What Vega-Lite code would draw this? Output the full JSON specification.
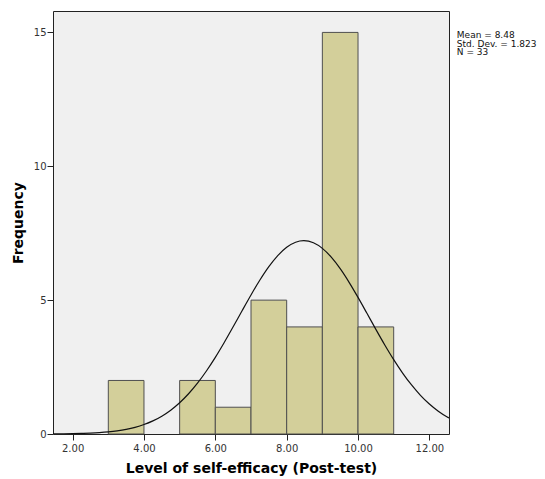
{
  "$schema": "https://vega.github.io/schema/vega-lite/v6.json",
  "autosize": "none",
  "width": 396,
  "height": 423,
  "padding": {"left": 53, "top": 11, "right": 96, "bottom": 45},
  "background": "white",
  "config": {
    "view": {"fill": "#f0f0f0", "stroke": "#222222", "strokeWidth": 1},
    "axis": {
      "domain": false,
      "grid": false,
      "tickColor": "#222222",
      "tickSize": 6,
      "labelFont": "DejaVu Sans",
      "labelFontSize": 10,
      "labelColor": "#333333",
      "titleFont": "DejaVu Sans",
      "titleFontWeight": "bold",
      "titleColor": "#000000"
    }
  },
  "datasets": {
    "bins": [
      {"start": 3, "end": 4, "count": 2},
      {"start": 5, "end": 6, "count": 2},
      {"start": 6, "end": 7, "count": 1},
      {"start": 7, "end": 8, "count": 5},
      {"start": 8, "end": 9, "count": 4},
      {"start": 9, "end": 10, "count": 15},
      {"start": 10, "end": 11, "count": 4}
    ],
    "curve": [
      {"x": 1.45, "y": 0.004},
      {"x": 1.5, "y": 0.0047},
      {"x": 1.75, "y": 0.0079},
      {"x": 2.0, "y": 0.013},
      {"x": 2.25, "y": 0.021},
      {"x": 2.5, "y": 0.0333},
      {"x": 2.75, "y": 0.0517},
      {"x": 3.0, "y": 0.0788},
      {"x": 3.25, "y": 0.1179},
      {"x": 3.5, "y": 0.173},
      {"x": 3.75, "y": 0.2494},
      {"x": 4.0, "y": 0.3526},
      {"x": 4.25, "y": 0.4893},
      {"x": 4.5, "y": 0.6663},
      {"x": 4.75, "y": 0.8902},
      {"x": 5.0, "y": 1.1678},
      {"x": 5.25, "y": 1.5031},
      {"x": 5.5, "y": 1.8984},
      {"x": 5.75, "y": 2.3532},
      {"x": 6.0, "y": 2.8627},
      {"x": 6.25, "y": 3.4175},
      {"x": 6.5, "y": 4.0037},
      {"x": 6.75, "y": 4.6035},
      {"x": 7.0, "y": 5.1944},
      {"x": 7.25, "y": 5.7516},
      {"x": 7.5, "y": 6.2501},
      {"x": 7.75, "y": 6.6653},
      {"x": 8.0, "y": 6.9757},
      {"x": 8.25, "y": 7.1644},
      {"x": 8.48, "y": 7.2217},
      {"x": 8.75, "y": 7.1429},
      {"x": 9.0, "y": 6.9338},
      {"x": 9.25, "y": 6.6054},
      {"x": 9.5, "y": 6.1754},
      {"x": 9.75, "y": 5.6658},
      {"x": 10.0, "y": 5.1015},
      {"x": 10.25, "y": 4.5076},
      {"x": 10.5, "y": 3.9086},
      {"x": 10.75, "y": 3.3264},
      {"x": 11.0, "y": 2.7778},
      {"x": 11.25, "y": 2.2767},
      {"x": 11.5, "y": 1.8311},
      {"x": 11.75, "y": 1.4454},
      {"x": 12.0, "y": 1.1195},
      {"x": 12.25, "y": 0.851},
      {"x": 12.5, "y": 0.6349},
      {"x": 12.55, "y": 0.5975}
    ],
    "stats": [
      {"x": 12.77, "y": 15.05, "label": ["Mean = 8.48", "Std. Dev. = 1.823", "N = 33"]}
    ]
  },
  "layer": [
    {
      "data": {"name": "bins"},
      "mark": {"type": "bar", "fill": "#d3cf9a", "stroke": "#4f4f4f", "strokeWidth": 1},
      "encoding": {
        "x": {
          "field": "start", "type": "quantitative",
          "scale": {"domain": [1.45, 12.55], "nice": false, "zero": false},
          "axis": {"values": [2, 4, 6, 8, 10, 12], "format": ".2f", "title": "Level of self-efficacy (Post-test)", "titleFontSize": 14, "labelPadding": 3, "titlePadding": 8}
        },
        "x2": {"field": "end"},
        "y": {
          "field": "count", "type": "quantitative",
          "scale": {"domain": [0, 15.8], "nice": false},
          "axis": {"values": [0, 5, 10, 15], "title": "Frequency", "titleFontSize": 14, "labelPadding": 1, "titlePadding": 8}
        },
        "y2": {"datum": 0}
      }
    },
    {
      "data": {"name": "curve"},
      "mark": {"type": "line", "color": "#111111", "strokeWidth": 1.2, "interpolate": "monotone", "clip": true},
      "encoding": {
        "x": {"field": "x", "type": "quantitative"},
        "y": {"field": "y", "type": "quantitative"}
      }
    },
    {
      "data": {"name": "stats"},
      "mark": {"type": "text", "align": "left", "baseline": "top", "font": "DejaVu Sans", "fontSize": 9, "lineHeight": 8.5, "color": "#111111", "clip": false},
      "encoding": {
        "x": {"field": "x", "type": "quantitative"},
        "y": {"field": "y", "type": "quantitative"},
        "text": {"field": "label"}
      }
    }
  ]
}
